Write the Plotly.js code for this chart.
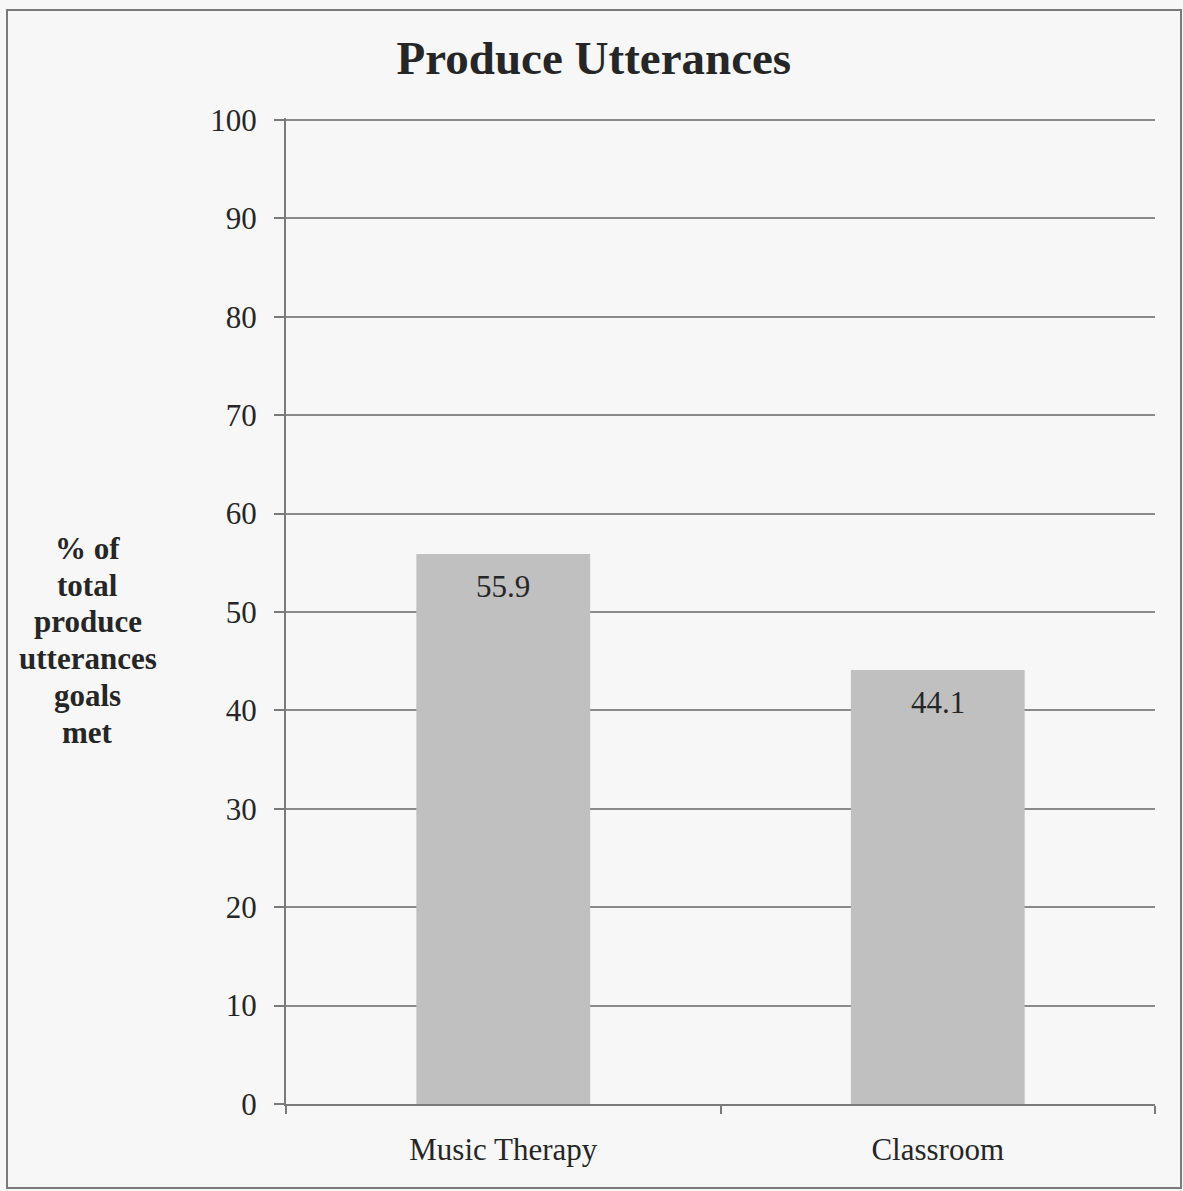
<!DOCTYPE html>
<html>
<head>
<meta charset="utf-8">
<script src="https://cdn.plot.ly/plotly-3.0.1.min.js"></script>
<style>
  html, body { margin: 0; padding: 0; background: #f7f7f7; }
  #wrap { position: relative; width: 1183px; height: 1191px; }
  #chart { width: 1183px; height: 1191px; }
  #frame { position: absolute; left: 6px; top: 9px; width: 1172px; height: 1176px;
           border: 2px solid #7a7a7a; pointer-events: none; }
</style>
</head>
<body>
<div id="wrap">
  <div id="chart"></div>
  <div id="frame"></div>
</div>
<script>
// Share of produce-utterances goals met, by setting
const categories = ["Music Therapy", "Classroom"];
const percentMet = [55.9, 44.1];
const yTicks = [0, 10, 20, 30, 40, 50, 60, 70, 80, 90, 100];
const yTitleLines = ["% of", "total", "produce", "utterances", "goals", "met"];

const serif = "Liberation Serif, Times New Roman, serif";
const ink = "#262626";

const trace = {
  type: "bar",
  x: categories,
  y: percentMet,
  marker: { color: "#c0c0c0", line: { width: 0 } },
  hoverinfo: "none",
  showlegend: false
};

// value labels sit just inside the top of each bar
const valueLabels = categories.map((c, i) => ({
  x: c, y: percentMet[i], xref: "x", yref: "y",
  text: percentMet[i].toFixed(1),
  showarrow: false, yanchor: "top", yshift: -13,
  font: { family: serif, size: 31, color: ink }
}));

// horizontal, stacked y-axis caption (one annotation per line for tight leading)
const yTitle = yTitleLines.map((t, i) => ({
  xref: "paper", yref: "paper",
  x: -0.228, y: 0.5636 - i * 0.0373,
  xanchor: "center", yanchor: "middle",
  text: "<b>" + t + "</b>",
  showarrow: false,
  font: { family: serif, size: 31, color: ink }
}));

const layout = {
  width: 1183, height: 1191,
  margin: { l: 286, r: 28, t: 118, b: 87 },
  paper_bgcolor: "#f7f7f7",
  plot_bgcolor: "#f7f7f7",
  bargap: 0.6,
  title: {
    text: "<b>Produce Utterances</b>",
    font: { family: serif, size: 47, color: ink },
    xref: "container", x: 0.502, xanchor: "center",
    yref: "container", y: 0.952, yanchor: "middle"
  },
  xaxis: {
    type: "category",
    tickson: "boundaries",
    ticks: "outside", ticklen: 8, tickwidth: 2, tickcolor: "#7a7a7a",
    showline: true, linecolor: "#7a7a7a", linewidth: 2,
    showgrid: false,
    tickfont: { family: serif, size: 31, color: ink },
    ticklabelstandoff: 17,
    fixedrange: true
  },
  yaxis: {
    range: [0, 100.2],
    tickvals: yTicks,
    ticks: "outside", ticklen: 10, tickwidth: 2, tickcolor: "#7a7a7a",
    showline: true, linecolor: "#7a7a7a", linewidth: 2,
    showgrid: true, gridcolor: "#8a8a8a", gridwidth: 2,
    zeroline: false,
    tickfont: { family: serif, size: 31, color: ink },
    ticklabelstandoff: 11,
    fixedrange: true
  },
  annotations: valueLabels.concat(yTitle)
};

Plotly.newPlot("chart", [trace], layout, { displayModeBar: false, staticPlot: true });
</script>
</body>
</html>
